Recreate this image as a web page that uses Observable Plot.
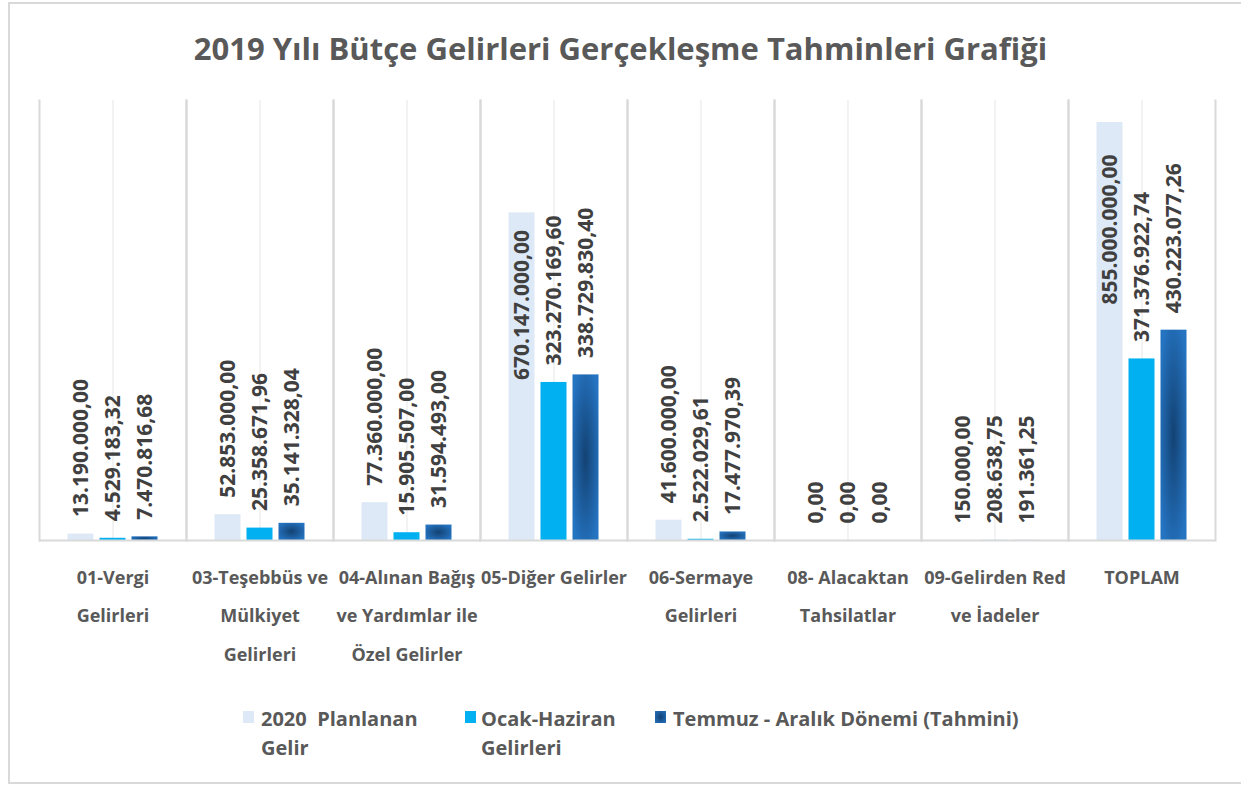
<!DOCTYPE html>
<html><head><meta charset="utf-8">
<script src="https://cdn.jsdelivr.net/npm/d3@7"></script>
<script src="https://cdn.jsdelivr.net/npm/@observablehq/plot@0.6"></script>
<style>
body{margin:0;background:#fff;}
#wrap{position:relative;width:1241px;height:785px;overflow:hidden;background:#fff;}
#border{position:absolute;left:8px;top:2px;width:1260px;height:782px;border:2px solid #d9d9d9;box-sizing:border-box;}
#title{position:absolute;left:0;width:1241px;top:28px;line-height:40px;text-align:center;font-weight:bold;font-size:31px;font-family:"Open Sans",sans-serif;color:#595959;}
#chart{position:absolute;left:0;top:0;}
.leg{position:absolute;top:704px;font-family:"Open Sans",sans-serif;font-weight:bold;font-size:20px;line-height:29px;color:#595959;white-space:nowrap;}
.sw{position:absolute;top:711px;width:11px;height:12px;}
</style></head>
<body><div id="wrap"><div id="border"></div><div id="title"></div><div id="chart"></div><div id="legend"></div></div>
<script>
const categories = ["01-Vergi Gelirleri","03-Teşebbüs ve Mülkiyet Gelirleri","04-Alınan Bağış ve Yardımlar ile Özel Gelirler","05-Diğer Gelirler","06-Sermaye Gelirleri","08- Alacaktan Tahsilatlar","09-Gelirden Red ve İadeler","TOPLAM"];
const axisLabels = ["01-Vergi\nGelirleri","03-Teşebbüs ve\nMülkiyet\nGelirleri","04-Alınan Bağış\nve Yardımlar ile\nÖzel Gelirler","05-Diğer Gelirler","06-Sermaye\nGelirleri","08- Alacaktan\nTahsilatlar","09-Gelirden Red\nve İadeler","TOPLAM"];
const series = ["2020  Planlanan Gelir","Ocak-Haziran Gelirleri","Temmuz - Aralık Dönemi (Tahmini)"];
const legendLabels = ["2020&nbsp; Planlanan<br>Gelir","Ocak-Haziran<br>Gelirleri","Temmuz - Aralık Dönemi (Tahmini)"];
const planned = [13190000, 52853000, 77360000, 670147000, 41600000, 0, 150000, 855000000];
const firstHalf = [4529183.32, 25358671.96, 15905507, 323270169.60, 2522029.61, 0, 208638.75, 371376922.74];
const secondHalf = [7470816.68, 35141328.04, 31594493, 338729830.40, 17477970.39, 0, 191361.25, 430223077.26];
const colors = ["#dde9f6", "#00b0f0", "url(#darkGrad)"];
const title = "2019 Yılı Bütçe Gelirleri Gerçekleşme Tahminleri Grafiği";

const data = categories.flatMap((c, i) => [
  {category: c, series: series[0], value: planned[i]},
  {category: c, series: series[1], value: firstHalf[i]},
  {category: c, series: series[2], value: secondHalf[i]}
]);
const catData = categories.map((c, i) => ({category: c, label: axisLabels[i]}));
const fmt = d3.formatLocale({decimal: ",", thousands: ".", grouping: [3], currency: ["", ""]}).format(",.2f");
const insideLimit = 600e6;

document.getElementById("title").textContent = title;

const labelStyle = {fontFamily: "Open Sans", fontWeight: "bold", fontSize: 21, fill: "#404040", rotate: -90};
const chart = Plot.plot({
  width: 1241, height: 680,
  marginTop: 100, marginLeft: 37.5, marginRight: 25.5, marginBottom: 140,
  fx: {domain: categories, padding: 0, axis: null},
  x: {domain: series, paddingInner: 0.2, paddingOuter: 0.88, axis: null},
  y: {domain: [0, 900e6], axis: null},
  color: {domain: series, range: colors},
  marks: [
    Plot.ruleX(data.filter(d => d.series === series[1]), {fx: "category", x: "series", stroke: "#ececec", strokeWidth: 1.3}),
    Plot.frame({anchor: "left", stroke: "#d9d9d9", strokeWidth: 2}),
    Plot.frame({anchor: "right", stroke: "#d9d9d9", strokeWidth: 2}),
    Plot.barY(data, {fx: "category", x: "series", y: "value", fill: "series"}),
    Plot.ruleY([0], {stroke: "#d9d9d9", strokeWidth: 2}),
    Plot.text(data.filter(d => d.value < insideLimit), {fx: "category", x: "series", y: "value", text: d => fmt(d.value), textAnchor: "start", dy: -17, ...labelStyle}),
    Plot.text(data.filter(d => d.value >= insideLimit && d.category !== "TOPLAM"), {fx: "category", x: "series", y: "value", text: d => fmt(d.value), textAnchor: "end", dy: 17, ...labelStyle}),
    Plot.text(data.filter(d => d.value >= insideLimit && d.category === "TOPLAM"), {fx: "category", x: "series", y: "value", text: d => fmt(d.value), textAnchor: "end", dy: 32, ...labelStyle}),
    Plot.text(catData, {fx: "category", text: "label", frameAnchor: "bottom", lineAnchor: "top", dy: 16, lineHeight: 2.14, fontSize: 18, fontWeight: "bold", fill: "#595959", fontFamily: "Open Sans, sans-serif"})
  ]
});
const defs = d3.select(chart).insert("defs", ":first-child");
const g = defs.append("radialGradient").attr("id", "darkGrad").attr("cx", 0.5).attr("cy", 0.5).attr("r", 0.6);
g.append("stop").attr("offset", "0%").attr("stop-color", "#134273");
g.append("stop").attr("offset", "100%").attr("stop-color", "#2574c2");
document.getElementById("chart").appendChild(chart);

const legendX = [{sw: 243, tx: 261}, {sw: 465, tx: 481}, {sw: 655, tx: 673}];
const legendFill = ["#dde9f6", "#00b0f0", "radial-gradient(ellipse at center, #134273, #2574c2)"];
const lg = document.getElementById("legend");
series.forEach((s, i) => {
  const sw = document.createElement("div");
  sw.className = "sw"; sw.style.left = legendX[i].sw + "px"; sw.style.background = legendFill[i];
  const tx = document.createElement("div");
  tx.className = "leg"; tx.style.left = legendX[i].tx + "px"; tx.innerHTML = legendLabels[i];
  lg.appendChild(sw); lg.appendChild(tx);
});
</script></body></html>
